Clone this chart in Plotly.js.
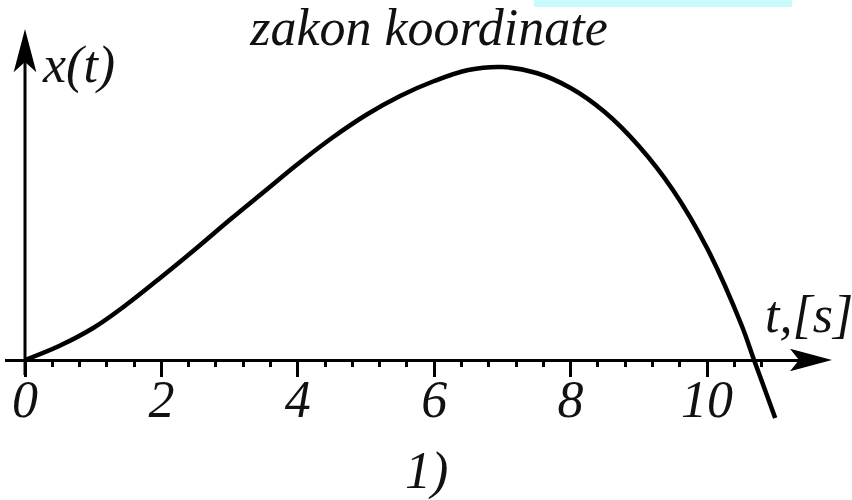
<!DOCTYPE html>
<html>
<head>
<meta charset="utf-8">
<script src="https://cdn.plot.ly/plotly-3.0.1.min.js"></script>
<style>
  html, body { margin: 0; padding: 0; background: #ffffff; }
  #chart { width: 852px; height: 500px; }
</style>
</head>
<body>
<div id="chart"></div>
<script>
// Time samples [s] and the coordinate x(t) (arbitrary units)
const tValues = [0, 0.5, 1, 1.5, 2, 2.5, 3, 3.5, 4, 4.5, 5, 5.5, 6, 6.5, 7, 7.5, 8, 8.5, 9, 9.5, 10, 10.5, 10.69, 11];
const xValues = [0, 14, 32, 56, 83, 111, 140, 168, 196, 222, 245, 264, 279, 290, 293, 287, 272, 248, 214, 170, 112, 36, 0, -58];

// Axis tick labels
const majorTicks = [0, 2, 4, 6, 8, 10];
const majorLabels = ['0', '2', '4', '6', '8', '10'];

const W = 852, H = 500;
const serif = "'Liberation Serif', 'Times New Roman', Times, serif";

// pixel -> paper helpers for the drawn decorations
const px = v => v / W;
const py = v => 1 - v / H;

// minor ticks every 0.4 s between the major ones
const minorTicks = [];
for (let k = 1; k <= 27; k++) {
  const v = +(k * 0.4).toFixed(2);
  if (Math.abs(v / 2 - Math.round(v / 2)) > 1e-6) minorTicks.push(v);
}

const trace = {
  type: 'scatter',
  mode: 'lines',
  x: tValues,
  y: xValues,
  line: { color: '#000000', width: 4.5, shape: 'spline', smoothing: 1 },
  hoverinfo: 'skip'
};

function arrowPath(pts) {
  return 'M ' + pts.map(p => px(p[0]) + ',' + py(p[1])).join(' L ') + ' Z';
}

const textFont = { family: serif, size: 52, style: 'italic', color: '#111111' };

const layout = {
  width: W,
  height: H,
  margin: { l: 0, r: 0, t: 0, b: 0 },
  paper_bgcolor: '#ffffff',
  plot_bgcolor: '#ffffff',
  showlegend: false,
  font: { family: serif },
  title: {
    text: 'zakon koordinate',
    font: textFont,
    x: 429 / W, xanchor: 'center',
    y: py(27), yanchor: 'middle'
  },
  xaxis: {
    domain: [px(5), px(805)],
    range: [(5 - 25) / 68.2, (805 - 25) / 68.2],
    anchor: 'free',
    position: py(360),
    showline: true, linecolor: '#000000', linewidth: 3,
    ticks: 'outside', ticklen: 15, tickwidth: 3, tickcolor: '#000000',
    tickmode: 'array', tickvals: majorTicks, ticktext: majorLabels,
    tickfont: textFont,
    ticklabelstandoff: -22,
    minor: { tickmode: 'array', tickvals: minorTicks, ticks: 'outside', ticklen: 5, tickwidth: 3, tickcolor: '#000000', showgrid: false },
    showgrid: false, zeroline: false, fixedrange: true
  },
  yaxis: {
    domain: [0, 1],
    range: [-140, 360],
    visible: false,
    fixedrange: true
  },
  shapes: [
    // highlight band at the top
    { type: 'rect', xref: 'paper', yref: 'paper', x0: px(534), x1: px(792), y0: py(7), y1: 1,
      fillcolor: '#c9fbfd', line: { width: 0 }, layer: 'below' },
    // vertical axis
    { type: 'line', xref: 'paper', yref: 'paper', x0: px(25), x1: px(25), y0: py(375), y1: py(60),
      line: { color: '#000000', width: 3 } },
    // arrowhead of the vertical axis
    { type: 'path', xref: 'paper', yref: 'paper',
      path: arrowPath([[25, 32], [15, 70], [25, 61], [35, 70]]),
      fillcolor: '#000000', line: { color: '#000000', width: 1.5 } },
    // arrowhead of the time axis
    { type: 'path', xref: 'paper', yref: 'paper',
      path: arrowPath([[829, 360], [792, 350], [800, 360], [792, 370]]),
      fillcolor: '#000000', line: { color: '#000000', width: 1.5 } },
    // time axis continued up to the arrow
    { type: 'line', xref: 'paper', yref: 'paper', x0: px(800), x1: px(810), y0: py(360), y1: py(360),
      line: { color: '#000000', width: 3 } }
  ],
  annotations: [
    { text: 'x(t)', xref: 'paper', yref: 'paper', x: px(40), y: py(65), xanchor: 'left', yanchor: 'middle',
      showarrow: false, font: textFont },
    { text: 't,[s]', xref: 'paper', yref: 'paper', x: px(763), y: py(314), xanchor: 'left', yanchor: 'middle',
      showarrow: false, font: textFont },
    { text: '1)', xref: 'paper', yref: 'paper', x: px(427), y: py(471), xanchor: 'center', yanchor: 'middle',
      showarrow: false, font: textFont }
  ]
};

Plotly.newPlot('chart', [trace], layout, { staticPlot: true, displayModeBar: false });
</script>
</body>
</html>
